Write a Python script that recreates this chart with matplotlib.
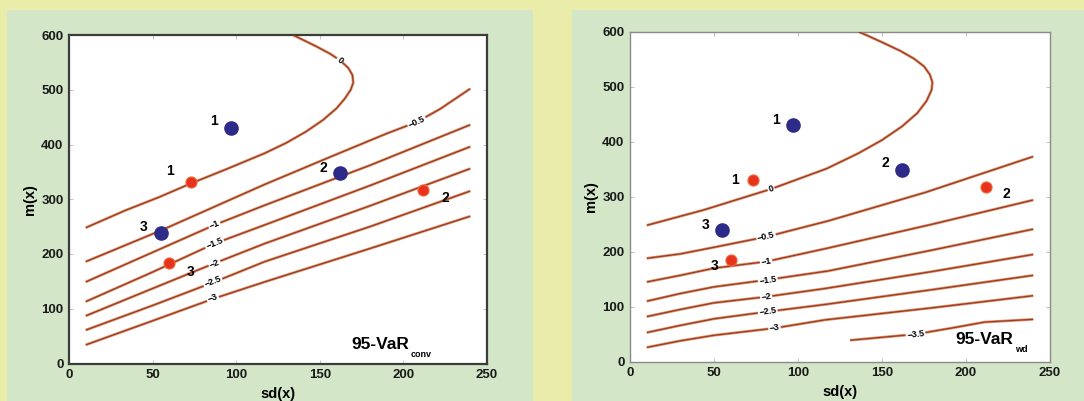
import numpy as np
import matplotlib.pyplot as plt
from matplotlib.patches import Rectangle

# portfolios (same positions in both panels)
blue_sd = [97, 162, 55]
blue_m = [430, 348, 239]
red_sd = [73, 212, 60]
red_m = [331, 317, 184]
point_names = ['1', '2', '3']

# contour lines
conv_levels = ['0', '-0.5', '-1', '-1.5', '-2', '-2.5', '-3']
conv_x = [
    [10, 34, 54, 73, 95, 117, 130, 142, 152, 160, 165, 168.5, 170, 169.5, 167, 162, 156, 148, 140, 134],
    [10, 55, 117, 156, 190, 208, 222, 240],
    [10, 87, 117, 180, 240],
    [10, 50, 87, 117, 180, 240],
    [10, 50, 87, 117, 180, 240],
    [10, 50, 87, 117, 180, 240],
    [10, 50, 87, 117, 180, 240],
]
conv_y = [
    [248, 280, 304, 329, 356, 384, 403, 424, 445, 466, 484, 500, 513, 527, 540, 554, 566, 579, 591, 600],
    [186, 243, 327, 377, 420, 441, 465, 502],
    [149, 253, 289, 362, 436],
    [113, 167, 219, 253, 325, 396],
    [87, 137, 183, 219, 288, 356],
    [61, 106, 149, 186, 250, 315],
    [34, 78, 119, 149, 210, 269],
]
conv_lab_x = [162, 208, 87, 87, 87, 86, 86]
conv_lab_y = [554, 441, 253, 219, 183, 149, 119]

# contour lines
wd_levels = ['0', '-0.5', '-1', '-1.5', '-2', '-2.5', '-3', '-3.5']
wd_x = [
    [10, 44, 84, 117, 136, 150, 162, 171, 176.5, 179.5, 180, 178.5, 175, 169, 161, 152, 142, 136],
    [10, 30, 50, 81, 118, 176, 240],
    [10, 30, 50, 81, 117, 180, 240],
    [10, 30, 50, 82, 118, 180, 240],
    [10, 30, 50, 81, 116, 180, 240],
    [10, 30, 50, 82, 116, 180, 240],
    [10, 30, 50, 86, 116, 180, 240],
    [131, 170, 193, 211, 240],
]
wd_y = [
    [248, 276, 314, 351, 379, 403, 428, 452, 474, 494, 508, 522, 537, 551, 565, 578, 592, 600],
    [188, 196, 208, 227, 256, 308, 373],
    [145, 157, 170, 182, 206, 250, 294],
    [110, 124, 136, 149, 165, 203, 241],
    [82, 95, 107, 118, 133, 164, 195],
    [53, 66, 78, 91, 104, 131, 157],
    [26, 38, 48, 61, 76, 98, 120],
    [39, 50, 62, 72, 77],
]
wd_lab_x = [84, 81, 81, 82, 81, 82, 86, 170]
wd_lab_y = [314, 227, 182, 148.5, 118, 91, 61, 50]

yellow = '#EAECAA'
green = '#D3E7C8'
line_dark = '#953C22'
line_glow = '#E29470'
blue = '#2E2A88'
red = '#E8321E'
font = 'Liberation Sans'

fig = plt.figure(figsize=(10.84, 4.01), dpi=100)
fig.patch.set_facecolor(yellow)
fig.add_artist(Rectangle((7 / 1084, 0), 526 / 1084, 391 / 401, transform=fig.transFigure,
                         facecolor=green, edgecolor='none', zorder=0))
fig.add_artist(Rectangle((572 / 1084, 0), 512 / 1084, 391 / 401, transform=fig.transFigure,
                         facecolor=green, edgecolor='none', zorder=0))


def seg_angle(xs, ys, lx, ly):
    # direction of the polyline segment nearest to the label
    d = [(xs[i] - lx) ** 2 + (ys[i] - ly) ** 2 for i in range(len(xs))]
    i = int(np.argmin(d))
    j0, j1 = max(i - 1, 0), min(i + 1, len(xs) - 1)
    a = np.degrees(np.arctan2(ys[j1] - ys[j0], xs[j1] - xs[j0]))
    if a > 90:
        a -= 180
    if a < -90:
        a += 180
    return a


def panel(rect, levels, xs, ys, lab_x, lab_y, name, sub, frame_col, frame_w,
          name_pos, red_offs, blue_offs):
    ax = fig.add_axes(rect)
    ax.set_facecolor('white')
    for k in range(len(levels)):
        ax.plot(xs[k], ys[k], color=line_glow, lw=2.0, solid_capstyle='butt', zorder=2)
        ax.plot(xs[k], ys[k], color=line_dark, lw=0.9, solid_capstyle='butt', zorder=3)
        ang = seg_angle(xs[k], ys[k], lab_x[k], lab_y[k])
        ax.text(lab_x[k], lab_y[k], levels[k].replace('-', '\u2212'), fontsize=6.5,
                fontweight='bold', family=font,
                rotation=ang, rotation_mode='anchor', transform_rotates_text=True,
                ha='center', va='center', zorder=4,
                bbox=dict(facecolor='white', edgecolor='none', pad=0.8))

    ax.plot(blue_sd, blue_m, 'o', color=blue, ms=9.5, zorder=5, ls='none')
    ax.plot(red_sd, red_m, 'o', color=red, ms=8, mec='#F06A3A', mew=0.8, zorder=5, ls='none')
    for i in range(3):
        ax.annotate(point_names[i], (blue_sd[i], blue_m[i]), xytext=blue_offs[i],
                    textcoords='offset pixels', ha='center', va='center',
                    fontsize=10, fontweight='bold', family=font, zorder=6)
        ax.annotate(point_names[i], (red_sd[i], red_m[i]), xytext=red_offs[i],
                    textcoords='offset pixels', ha='center', va='center',
                    fontsize=10, fontweight='bold', family=font, zorder=6)

    t = ax.text(name_pos[0], name_pos[1], name, transform=ax.transAxes, fontsize=12.5,
                fontweight='bold', family=font, ha='left', va='center')
    ax.annotate(sub, xy=(1.0, 0.0), xycoords=t, xytext=(1.5, -1.5), textcoords='offset points',
                fontsize=6.5, fontweight='bold', family=font, ha='left', va='center')

    ax.set_xlim(0, 250)
    ax.set_ylim(0, 600)
    ax.set_xticks([0, 50, 100, 150, 200, 250])
    ax.set_yticks([0, 100, 200, 300, 400, 500, 600])
    ax.tick_params(direction='in', length=3, width=0.6, color='#B8B8B8', pad=4,
                   labelsize=9.5, top=True, right=True)
    for lab in ax.get_xticklabels() + ax.get_yticklabels():
        lab.set_fontweight('bold')
        lab.set_family(font)
        lab.set_color('#1A1A1A')
    for s in ax.spines.values():
        s.set_color(frame_col)
        s.set_linewidth(frame_w)
    ax.set_xlabel('sd(x)', fontsize=10.5, fontweight='bold', family=font, labelpad=4)
    ax.set_ylabel('m(x)', fontsize=10.5, fontweight='bold', family=font, labelpad=3)
    return ax


panel([69 / 1084, 1 - 363.5 / 401, 418 / 1084, 328.5 / 401],
      conv_levels, conv_x, conv_y, conv_lab_x, conv_lab_y,
      '95-VaR', 'conv', '#3C3C3C', 1.6, (0.675, 0.058),
      [(-21, 11), (22, -8), (21, -9)], [(-17, 7), (-17, 5), (-17, 6)])

panel([630 / 1084, 1 - 361.7 / 401, 420 / 1084, 330 / 401],
      wd_levels, wd_x, wd_y, wd_lab_x, wd_lab_y,
      '95-VaR', 'wd', '#8A8A8A', 1.0, (0.775, 0.066),
      [(-18, 0), (20, -7), (-16, -6)], [(-17, 5), (-17, 7), (-17, 5)])

fig.savefig('out.png', dpi=100, facecolor=fig.get_facecolor())
